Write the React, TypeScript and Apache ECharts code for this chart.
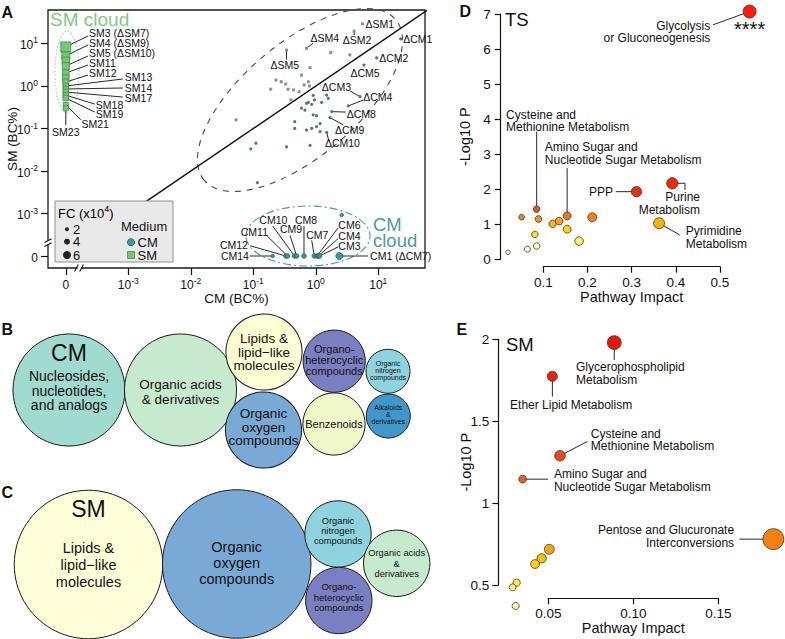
import React, { useEffect, useRef } from 'react';
import * as echarts from 'echarts';

const FONT = '"Liberation Sans", Arial, Helvetica, sans-serif';
const INK = '#111111';

/* ================= Panel A : BC% in CM (x) vs SM (y) ================= */
// SM cloud (not detected in CM, CM BC% = 0)
const smCloudNames = ['SM3 (ΔSM7)', 'SM4 (ΔSM9)', '', 'SM5 (ΔSM10)', 'SM11', '', 'SM12', 'SM13', 'SM14', 'SM17', 'SM18', 'SM19', 'SM21', 'SM23'];
const smCloudSM = [8.3, 5.1, 3.9, 2.96, 2.02, 1.54, 1.24, 1.0, 0.85, 0.72, 0.61, 0.52, 0.36, 0.3];
const smCloudFC = [8, 6, 5.5, 5, 4.5, 4.5, 4, 3.5, 3.5, 3.5, 3.5, 3.5, 3, 3];

// CM cloud (not detected in SM, SM BC% = 0)
const cmCloudNames = ['CM14', 'CM12', 'CM11', 'CM10', 'CM9', 'CM8', 'CM7', 'CM6', 'CM4', 'CM3', 'CM1 (ΔCM7)', ''];
const cmCloudCM = [0.204, 0.333, 0.352, 0.456, 0.494, 0.647, 0.946, 1.045, 1.096, 1.146, 2.38, 2.6];
const cmCloudSM = [0, 0, 0, 0, 0, 0, 0, 0, 0, 0, 0, 0.00092];
const cmCloudFC = [1.5, 2.5, 2.5, 2.5, 2.5, 2.5, 2.5, 2.5, 2.5, 2.5, 5, 1.5];

// Δ metabolites enriched in SM (above identity)
const dsmNames = ['ΔSM1', 'ΔSM2', 'ΔSM4', 'ΔSM5', '', '', '', '', '', '', '', '', '', '', '', '', '', '', '', ''];
const dsmCM = [5.6, 4.1, 0.71, 0.34, 1.73, 3.5, 0.81, 0.59, 0.23, 0.28, 0.33, 0.19, 0.36, 0.44, 0.54, 0.65, 0.76, 0.79, 0.053, 0.4];
const dsmSM = [29, 19.5, 7.7, 7.0, 6.1, 5.4, 2.7, 1.8, 1.38, 1.26, 1.11, 0.84, 0.84, 0.81, 0.73, 1.06, 1.26, 1.0, 0.16, 0.47];

// Δ metabolites enriched in CM (below identity)
const dcmNames = ['ΔCM1', 'ΔCM2', 'ΔCM5', 'ΔCM3', 'ΔCM4', 'ΔCM8', 'ΔCM9', 'ΔCM10', '', '', '', '', '', '', '', '', '', '', '', '', '', '', '', '', '', '', '', '', '', '', '', ''];
const dcmCM = [22.8, 9.4, 5.9, 5.1, 3.3, 1.8, 1.69, 1.49, 0.91, 0.95, 1.49, 1.58, 1.24, 0.76, 0.86, 0.59, 0.67, 0.91, 1.03, 0.46, 0.46, 0.71, 0.86, 1.03, 1.17, 1.17, 0.34, 0.81, 0.11, 0.091, 0.116, 0.71];
const dcmSM = [12.8, 4.6, 3.1, 0.56, 0.34, 0.25, 0.18, 0.081, 0.6, 0.47, 0.61, 0.51, 0.41, 0.41, 0.37, 0.3, 0.27, 0.21, 0.2, 0.145, 0.1, 0.092, 0.1, 0.11, 0.13, 0.084, 0.037, 0.04, 0.045, 0.033, 0.0053, 0.39];

const decadeTicks = [-4, -3, -2, -1, 0, 1]; // -4 stands for the broken "0" position
const legendFC = [2, 4, 6];

/* ================= Panel B / C : chemical classes ================= */
const classesB = ['Nucleosides,\nnucleotides,\nand analogs', 'Organic acids\n& derivatives', 'Lipids &\nlipid−like\nmolecules', 'Organic\noxygen\ncompounds', 'Organo-\nheterocyclic\ncompounds', 'Benzenoids', 'Organic\nnitrogen\ncompounds', 'Alkaloids\n&\nderivatives'];
const countsB = [13, 13, 6, 6, 4, 4, 2, 2];
const classesC = ['Lipids &\nlipid−like\nmolecules', 'Organic\noxygen\ncompounds', 'Organic\nnitrogen\ncompounds', 'Organo-\nheterocyclic\ncompounds', 'Organic acids\n&\nderivatives'];
const countsC = [5, 5, 1, 1, 1];

/* ================= Panel D / E : pathway analysis ================= */
const tsNames = ['Glycolysis\nor Gluconeogenesis', 'PPP', 'Purine\nMetabolism', 'Pyrimidine\nMetabolism', 'Cysteine and\nMethionine Metabolism', 'Amino Sugar and\nNucleotide Sugar Metabolism', '', '', '', '', '', '', '', '', '', '', ''];
const tsImpact = [0.567, 0.311, 0.392, 0.362, 0.085, 0.154, 0.051, 0.089, 0.121, 0.136, 0.211, 0.154, 0.081, 0.181, 0.064, 0.085, 0.02];
const tsLogP = [7.07, 1.93, 2.17, 1.03, 1.43, 1.24, 1.2, 1.15, 1.01, 1.09, 1.2, 0.86, 0.71, 0.52, 0.29, 0.38, 0.2];

const smNames = ['Glycerophospholipid\nMetabolism', 'Ether Lipid Metabolism', 'Cysteine and\nMethionine Metabolism', 'Amino Sugar and\nNucleotide Sugar Metabolism', 'Pentose and Glucuronate\nInterconversions', '', '', '', '', '', ''];
const smImpact = [0.0888, 0.0524, 0.0569, 0.0349, 0.1824, 0.0506, 0.0461, 0.0422, 0.0314, 0.029, 0.0308];
const smLogP = [1.98, 1.774, 1.289, 1.146, 0.78, 0.718, 0.663, 0.628, 0.514, 0.486, 0.372];

/* ================= layout & style (not data) ================= */
type Ann = { i: number; tx: number; ty: number; align: string; line?: number[][]; text?: string; size?: number };

const smCloudAnn: Ann[] = [
  { i: 0, tx: 23.3, ty: -13.7, align: 'left', line: [[22.3, -11]] },
  { i: 1, tx: 23.3, ty: -13.3, align: 'left', line: [[22.3, -11]] },
  { i: 3, tx: 23.3, ty: -12.7, align: 'left', line: [[22.3, -10]] },
  { i: 4, tx: 23.3, ty: -10.3, align: 'left', line: [[22.3, -8]] },
  { i: 6, tx: 23.3, ty: -9.3, align: 'left', line: [[22.3, -7]] },
  { i: 7, tx: 59, ty: -8.7, align: 'left', line: [[57, -7]] },
  { i: 8, tx: 59, ty: -0.7, align: 'left', line: [[57, -1]] },
  { i: 9, tx: 59, ty: 6.3, align: 'left', line: [[57, 5]] },
  { i: 10, tx: 30, ty: 10, align: 'left', line: [[29, 9]] },
  { i: 11, tx: 30, ty: 16, align: 'left', line: [[29, 14]] },
  { i: 12, tx: 15.7, ty: 19, align: 'left', line: [[15, 15]] },
  { i: 13, tx: 0, ty: 23.7, align: 'center', line: [[0, 17]] },
];
const cmCloudAnn: Ann[] = [
  { i: 0, tx: -23.7, ty: 0, align: 'right', line: [[-23, 0]] },
  { i: 1, tx: -38, ty: -11.3, align: 'right', line: [[-36, -10.3]] },
  { i: 2, tx: -19.5, ty: -24, align: 'right', line: [[-20.8, -20.6]] },
  { i: 3, tx: -21.2, ty: -35.6, align: 'center', line: [[-21.8, -30]] },
  { i: 4, tx: -5.7, ty: -26.6, align: 'center', line: [[-6.7, -20.6]] },
  { i: 5, tx: 2, ty: -35.6, align: 'center', line: [[0, -30]] },
  { i: 6, tx: 3, ty: -20.6, align: 'center', line: [[-2.6, -15.6]] },
  { i: 7, tx: 21.3, ty: -31.3, align: 'left', line: [[21, -28]] },
  { i: 8, tx: 20, ty: -20, align: 'left', line: [[19.7, -17.3]] },
  { i: 9, tx: 18.8, ty: -10, align: 'left', line: [[18.5, -9]] },
  { i: 10, tx: 30.7, ty: 0, align: 'left', line: [[28.7, 0]] },
];
const dsmAnn: Ann[] = [
  { i: 0, tx: 3, ty: 0, align: 'left' },
  { i: 1, tx: 3, ty: 9, align: 'center', line: [[0, 4]] },
  { i: 2, tx: 4, ty: -10, align: 'left', line: [[6.6, -5]] },
  { i: 3, tx: -1.7, ty: 15, align: 'center', line: [[0, 9.5]] },
];
const dcmAnn: Ann[] = [
  { i: 0, tx: 2.5, ty: 0, align: 'left' },
  { i: 1, tx: 2.5, ty: 0, align: 'left' },
  { i: 2, tx: 1, ty: 8, align: 'center' },
  { i: 3, tx: -9, ty: -10, align: 'right', line: [[-10, -5.7]] },
  { i: 4, tx: 15, ty: -9, align: 'left', line: [[14.7, -5.7]] },
  { i: 5, tx: 15, ty: 2.3, align: 'left', line: [[14, 0.5]] },
  { i: 6, tx: 5, ty: 12.3, align: 'left', line: [[13.3, 7.3]] },
  { i: 7, tx: -1.7, ty: 11, align: 'left', line: [[2.3, 8.7]] },
];
const tsAnn: Ann[] = [
  { i: 0, tx: -39.3, ty: 20.3, align: 'right', line: [[-36.7, 13.3]] },
  { i: 0, tx: 0, ty: 17.8, align: 'center', text: '****', size: 20 },
  { i: 1, tx: -23.4, ty: 0.3, align: 'right', line: [[-20.7, 0]] },
  { i: 2, tx: 27.7, ty: 20.5, align: 'right', line: [[12.7, 0], [12.7, 6.7]] },
  { i: 3, tx: 26.7, ty: 14.2, align: 'left', line: [[20.7, 11.7]] },
  { i: 4, tx: -30.7, ty: -88.1, align: 'left', line: [[0, -77.6]] },
  { i: 5, tx: -22.3, ty: -62.3, align: 'left', line: [[0, -47.7]] },
];
const smAnn: Ann[] = [
  { i: 0, tx: -38.3, ty: 31, align: 'left', line: [[0, 17.3]] },
  { i: 1, tx: -42.3, ty: 28.3, align: 'left', line: [[0, 20.3]] },
  { i: 2, tx: 30.7, ty: -16, align: 'left', line: [[27.3, -14.3]] },
  { i: 3, tx: 31.3, ty: 1.2, align: 'left', line: [[25.6, 0]] },
  { i: 4, tx: -39.3, ty: -2.6, align: 'right', line: [[-34, 0]] },
];

// packed-bubble layout centres (pixel space of hidden grid)
const bubbleLayoutB = [[69, 390], [180.5, 390], [264, 352], [263.5, 430], [334.2, 361.2], [334, 424], [388, 371.3], [388.3, 416]];
const bubbleLayoutC = [[88.5, 564.5], [236.7, 564], [338, 534], [338.8, 600.5], [396.7, 563.3]];
const colorsB = ['#a1dace', '#c7eacf', '#fefed4', '#79a9d4', '#7a7fc1', '#eef8c8', '#8ed3de', '#3f98c9'];
const colorsC = ['#fefed8', '#79a9d4', '#8ed3de', '#7a7fc1', '#c7eacf'];
const fontB = [14, 13.5, 13.5, 13.5, 11, 11, 7, 7];
const lhB = [14.7, 14.3, 13.3, 13.7, 11, 11, 7, 7];
const offB = [[0, 0.7], [0, 2], [0, 0], [0, -3], [0, -1.4], [0, 0], [0, -0.7], [0, -2]];
const fontC = [14.5, 14.5, 9.3, 9.5, 9.3];
const lhC = [16.7, 16, 10, 10.3, 10.5];
const offC = [[0, 0.5], [0, -0.7], [0, -3.3], [0, -3.5], [0, 0.5]];

const tsStops: [number, string][] = [[0.2, '#fffbe0'], [0.38, '#fff7a6'], [0.6, '#ffec3c'], [0.86, '#ffd500'], [1.03, '#f9b300'], [1.15, '#f49216'], [1.25, '#ef6e1a'], [1.45, '#e84e1a'], [1.95, '#ee2a0c'], [7, '#ff1a00']];
const smStops: [number, string][] = [[0.37, '#fffca8'], [0.5, '#ffee4a'], [0.63, '#fbcf0c'], [0.66, '#f8bf06'], [0.72, '#f5a30a'], [0.78, '#f38010'], [1.15, '#e8601a'], [1.29, '#e84a1e'], [1.77, '#ec200c'], [2, '#e8140c']];

const ZERO_POS = -4;
const toAxis = (v: number) => (v > 0 ? Math.log10(v) : ZERO_POS);

function hex(c: string) {
  return [1, 3, 5].map((k) => parseInt(c.slice(k, k + 2), 16));
}
function colorAt(stops: [number, string][], v: number) {
  if (v <= stops[0][0]) return stops[0][1];
  for (let k = 1; k < stops.length; k++) {
    if (v <= stops[k][0]) {
      const t = (v - stops[k - 1][0]) / (stops[k][0] - stops[k - 1][0]);
      const a = hex(stops[k - 1][1]);
      const b = hex(stops[k][1]);
      const m = a.map((x, j) => Math.round(x + (b[j] - x) * t));
      return `rgb(${m[0]},${m[1]},${m[2]})`;
    }
  }
  return stops[stops.length - 1][1];
}

function annotationSeries(axis: number, points: number[][], texts: string[], anns: Ann[], fontSize: number, lineHeight: number) {
  return {
    type: 'custom',
    xAxisIndex: axis,
    yAxisIndex: axis,
    z: 1,
    silent: true,
    clip: false,
    data: anns.map((a) => points[a.i]),
    renderItem: (params: any, api: any) => {
      const a = anns[params.dataIndex];
      const p = api.coord([api.value(0), api.value(1)]);
      const children: any[] = [];
      if (a.line) {
        children.push({
          type: 'polyline',
          shape: { points: [[p[0], p[1]], ...a.line.map((q) => [p[0] + q[0], p[1] + q[1]])] },
          style: { stroke: INK, lineWidth: 0.9, fill: 'none' },
        });
      }
      children.push({
        type: 'text',
        x: p[0] + a.tx,
        y: p[1] + a.ty,
        style: {
          text: a.text ?? texts[a.i],
          fontSize: a.size ?? fontSize,
          lineHeight,
          fontFamily: FONT,
          fill: INK,
          align: a.align,
          verticalAlign: 'middle',
        },
      });
      return { type: 'group', children };
    },
  };
}

const supRich = {
  b: { fontSize: 12, lineHeight: 15, verticalAlign: 'bottom', fontFamily: FONT, color: INK },
  s: { fontSize: 8.5, lineHeight: 6, verticalAlign: 'top', fontFamily: FONT, color: INK },
};
const logFormatter = (v: number) => (v === ZERO_POS ? '{b|0}' : `{b|10}{s|${v}}`);

function gText(text: string, x: number, y: number, fontSize: number, extra: any = {}) {
  return {
    type: 'text',
    x,
    y,
    z: 100,
    silent: true,
    style: { text, fontSize, fontFamily: FONT, fill: INK, align: 'left', verticalAlign: 'middle', ...extra },
  };
}

function bubbleSeries(classes: string[], counts: number[], layout: number[][], k: number, colors: string[], fonts: number[], lhs: number[], offs: number[][]) {
  return {
    type: 'scatter',
    xAxisIndex: 3,
    yAxisIndex: 3,
    symbol: 'circle',
    z: 2,
    silent: true,
    itemStyle: { borderColor: '#1a1a1a', borderWidth: 1, opacity: 1 },
    label: { show: true, position: 'inside', color: INK, fontFamily: FONT, formatter: (p: any) => p.name },
    data: classes.map((name, i) => ({
      name,
      value: layout[i],
      symbolSize: 2 * k * Math.sqrt(counts[i]),
      itemStyle: { color: colors[i] },
      label: { fontSize: fonts[i], lineHeight: lhs[i], offset: offs[i] },
    })),
  };
}

function buildOption() {
  const smCloudPts = smCloudSM.map((v) => [toAxis(0), toAxis(v)]);
  const cmCloudPts = cmCloudCM.map((v, i) => [toAxis(v), toAxis(cmCloudSM[i])]);
  const dsmPts = dsmCM.map((v, i) => [toAxis(v), toAxis(dsmSM[i])]);
  const dcmPts = dcmCM.map((v, i) => [toAxis(v), toAxis(dcmSM[i])]);
  const tsPts = tsImpact.map((v, i) => [v, tsLogP[i]]);
  const smPts = smImpact.map((v, i) => [v, smLogP[i]]);
  const identity = [-3.3, 1.9].map((v) => [v, v]);

  const axisLineStyle = { color: INK, width: 1.2 };
  const nameStyle = { fontSize: 14.5, color: INK, fontFamily: FONT };

  const legendItems: any[] = [
    { type: 'rect', shape: { x: 55, y: 201, width: 118, height: 61 }, style: { fill: '#e9e9e9', stroke: '#8f8f8f', lineWidth: 1 } },
    { type: 'text', x: 58, y: 212, style: { text: '{b|FC (x10}{s|4}{b|)}', rich: { b: { ...supRich.b, fontSize: 13 }, s: { ...supRich.s, fontSize: 9 } }, verticalAlign: 'middle', align: 'left' } },
    { type: 'text', x: 121, y: 226.7, style: { text: 'Medium', fontSize: 13, fontFamily: FONT, fill: INK, verticalAlign: 'middle', align: 'left' } },
    { type: 'circle', shape: { cx: 131, cy: 242.3, r: 3.6 }, style: { fill: '#3d9b96', stroke: '#1e5c59', lineWidth: 0.8 } },
    { type: 'text', x: 137.5, y: 242.3, style: { text: 'CM', fontSize: 13, fontFamily: FONT, fill: INK, verticalAlign: 'middle', align: 'left' } },
    { type: 'rect', shape: { x: 127.5, y: 251.5, width: 7, height: 7 }, style: { fill: '#7cc47c', stroke: '#3f8f3f', lineWidth: 0.8 } },
    { type: 'text', x: 137.5, y: 255.5, style: { text: 'SM', fontSize: 13, fontFamily: FONT, fill: INK, verticalAlign: 'middle', align: 'left' } },
  ];
  const legendY = [229.3, 241.7, 255];
  legendFC.forEach((fc, k) => {
    legendItems.push({ type: 'circle', shape: { cx: 67, cy: legendY[k], r: (2 + fc) / 2 }, style: { fill: '#222' } });
    legendItems.push({ type: 'text', x: 73, y: legendY[k], style: { text: String(fc), fontSize: 13, fontFamily: FONT, fill: INK, verticalAlign: 'middle', align: 'left' } });
  });

  const graphics: any[] = [
    // ellipses
    { type: 'ellipse', x: 300, y: 100, rotation: 0.698, z: 1, silent: true, shape: { cx: 0, cy: 0, rx: 125, ry: 57 }, style: { fill: 'none', stroke: '#4a4a4a', lineWidth: 1.1, lineDash: [6, 6] } },
    { type: 'ellipse', x: 67, y: 72, z: 1, silent: true, shape: { cx: 0, cy: 0, rx: 12, ry: 41 }, style: { fill: 'none', stroke: '#9dd49d', lineWidth: 1.1, lineDash: [1.5, 2] } },
    { type: 'ellipse', x: 308, y: 236, z: 1, silent: true, shape: { cx: 0, cy: 0, rx: 62, ry: 30 }, style: { fill: 'none', stroke: '#4b9c97', lineWidth: 1.1, lineDash: [8, 3, 2, 3] } },
    gText('SM cloud', 50, 19.5, 19, { fill: '#86c886' }),
    gText('CM\ncloud', 373, 232, 18.5, { fill: '#4f9c97', lineHeight: 16 }),
    // legend
    { type: 'group', z: 100, silent: true, children: legendItems.map((e) => ({ ...e, z: 100 })) },
    // axis breaks
    { type: 'rect', z: 90, silent: true, shape: { x: 77.5, y: 265, width: 3.5, height: 6 }, style: { fill: '#fff' } },
    { type: 'line', z: 91, silent: true, shape: { x1: 74.5, y1: 271.5, x2: 78.3, y2: 264.5 }, style: { stroke: INK, lineWidth: 1.1 } },
    { type: 'line', z: 91, silent: true, shape: { x1: 79.7, y1: 271.5, x2: 83.5, y2: 264.5 }, style: { stroke: INK, lineWidth: 1.1 } },
    { type: 'rect', z: 90, silent: true, shape: { x: 45, y: 240.5, width: 6, height: 4 }, style: { fill: '#fff' } },
    { type: 'line', z: 91, silent: true, shape: { x1: 44.5, y1: 242.5, x2: 51.5, y2: 238.8 }, style: { stroke: INK, lineWidth: 1.1 } },
    { type: 'line', z: 91, silent: true, shape: { x1: 44.5, y1: 246.5, x2: 51.5, y2: 242.8 }, style: { stroke: INK, lineWidth: 1.1 } },
    // panel letters and headings
    gText('A', 1.5, 12, 16, { fontWeight: 'bold' }),
    gText('B', 1.5, 329, 16, { fontWeight: 'bold' }),
    gText('C', 1.5, 492.5, 16, { fontWeight: 'bold' }),
    gText('D', 459.5, 11.5, 16, { fontWeight: 'bold' }),
    gText('E', 456.5, 329, 16, { fontWeight: 'bold' }),
    gText('TS', 505, 19.7, 18.5),
    gText('SM', 506, 344.8, 18.5),
    gText('CM', 69, 353.3, 23, { align: 'center' }),
    gText('SM', 88.5, 509.3, 23, { align: 'center' }),
  ];

  return {
    animation: false,
    textStyle: { fontFamily: FONT, color: INK },
    grid: [
      { left: 48, top: 10, width: 377, height: 258, show: true, borderColor: '#1a1a1a', borderWidth: 1.3, backgroundColor: 'rgba(0,0,0,0)', containLabel: false, outerBoundsMode: 'none' },
      { left: 543.3, top: 14, width: 176.7, height: 245.3, containLabel: false, outerBoundsMode: 'none' },
      { left: 548.3, top: 339.3, width: 170, height: 245.7, containLabel: false, outerBoundsMode: 'none' },
      { left: 0, top: 0, width: 785, height: 639, containLabel: false, outerBoundsMode: 'none' },
    ],
    xAxis: [
      {
        gridIndex: 0, type: 'value', min: -4.285, max: 1.747,
        axisLine: { show: false, onZero: false },
        splitLine: { show: false },
        axisTick: { show: true, customValues: decadeTicks, length: 7, lineStyle: axisLineStyle },
        axisLabel: { customValues: decadeTicks, formatter: logFormatter, rich: supRich, margin: 8 },
        name: 'CM (BC%)', nameLocation: 'middle', nameGap: 23, nameMoveOverlap: false,
        nameTextStyle: { ...nameStyle, fontSize: 13.5 },
      },
      {
        gridIndex: 1, type: 'value', min: 0.1, max: 0.5, interval: 0.1, offset: 7.4,
        axisLine: { show: true, onZero: false, lineStyle: axisLineStyle },
        axisTick: { length: 6, lineStyle: axisLineStyle },
        axisLabel: { fontSize: 13.5, color: INK, margin: 9, fontFamily: FONT },
        splitLine: { show: false },
        name: 'Pathway Impact', nameLocation: 'middle', nameGap: 23, nameMoveOverlap: false, nameTextStyle: nameStyle,
      },
      {
        gridIndex: 2, type: 'value', min: 0.05, max: 0.15, interval: 0.05, offset: 13.3,
        axisLine: { show: true, onZero: false, lineStyle: axisLineStyle },
        axisTick: { length: 6, lineStyle: axisLineStyle },
        axisLabel: { fontSize: 13.5, color: INK, margin: 8, fontFamily: FONT, formatter: (v: number) => v.toFixed(2) },
        splitLine: { show: false },
        name: 'Pathway Impact', nameLocation: 'middle', nameGap: 22, nameMoveOverlap: false, nameTextStyle: nameStyle,
      },
      { gridIndex: 3, type: 'value', min: 0, max: 785, show: false },
    ],
    yAxis: [
      {
        gridIndex: 0, type: 'value', min: -4.282, max: 1.788,
        axisLine: { show: false, onZero: false },
        splitLine: { show: false },
        axisTick: { show: true, customValues: decadeTicks, length: 7, lineStyle: axisLineStyle },
        axisLabel: { customValues: decadeTicks, formatter: logFormatter, rich: supRich, margin: 10 },
        name: 'SM (BC%)', nameLocation: 'middle', nameGap: 28.5, nameMoveOverlap: false,
        nameTextStyle: { ...nameStyle, fontSize: 13.5 },
      },
      {
        gridIndex: 1, type: 'value', min: 0, max: 7, interval: 1, offset: 42.6,
        axisLine: { show: true, onZero: false, lineStyle: axisLineStyle },
        axisTick: { length: 6, lineStyle: axisLineStyle },
        axisLabel: { fontSize: 13.5, color: INK, margin: 10, fontFamily: FONT },
        splitLine: { show: false },
        name: '-Log10 P', nameLocation: 'middle', nameGap: 28.5, nameMoveOverlap: false, nameTextStyle: nameStyle,
      },
      {
        gridIndex: 2, type: 'value', min: 0.5, max: 2, interval: 0.5, offset: 50,
        axisLine: { show: true, onZero: false, lineStyle: axisLineStyle },
        axisTick: { length: 6, lineStyle: axisLineStyle },
        axisLabel: { fontSize: 13.5, color: INK, margin: 9, fontFamily: FONT },
        splitLine: { show: false },
        name: '-Log10 P', nameLocation: 'middle', nameGap: 25, nameMoveOverlap: false, nameTextStyle: nameStyle,
      },
      { gridIndex: 3, type: 'value', min: 0, max: 639, inverse: true, show: false },
    ],
    series: [
      // Panel A
      { type: 'line', xAxisIndex: 0, yAxisIndex: 0, data: identity, symbol: 'none', silent: true, z: 1, lineStyle: { color: INK, width: 1.5 } },
      { type: 'scatter', name: 'ΔSM', xAxisIndex: 0, yAxisIndex: 0, data: dsmPts, symbol: 'rect', symbolSize: 3, z: 3, silent: true, itemStyle: { color: '#8a938f', opacity: 1 } },
      { type: 'scatter', name: 'ΔCM', xAxisIndex: 0, yAxisIndex: 0, data: dcmPts, symbol: 'circle', symbolSize: 3.2, z: 3, silent: true, itemStyle: { color: '#4e7e7b', opacity: 1 } },
      {
        type: 'scatter', name: 'SM cloud', xAxisIndex: 0, yAxisIndex: 0, symbol: 'rect', z: 4, silent: true, clip: false,
        data: smCloudPts.map((p, i) => ({ value: p, symbolSize: 2 + smCloudFC[i] })),
        itemStyle: { color: '#7cc47c', borderColor: '#3f8f3f', borderWidth: 0.8, opacity: 1 },
      },
      {
        type: 'scatter', name: 'CM cloud', xAxisIndex: 0, yAxisIndex: 0, symbol: 'circle', z: 4, silent: true, clip: false,
        data: cmCloudPts.map((p, i) => ({ value: p, symbolSize: 2 + cmCloudFC[i] })),
        itemStyle: { color: '#3d9b96', borderColor: '#1e5c59', borderWidth: 0.8, opacity: 1 },
      },
      annotationSeries(0, smCloudPts, smCloudNames, smCloudAnn, 10.5, 11),
      annotationSeries(0, cmCloudPts, cmCloudNames, cmCloudAnn, 10.5, 11),
      annotationSeries(0, dsmPts, dsmNames, dsmAnn, 10.5, 11),
      annotationSeries(0, dcmPts, dcmNames, dcmAnn, 10.5, 11),
      // Panel D
      {
        type: 'scatter', name: 'TS', xAxisIndex: 1, yAxisIndex: 1, data: tsPts, clip: false, z: 3, silent: true,
        symbolSize: (v: number[]) => 2.5 + 14 * Math.sqrt(v[0]),
        itemStyle: { color: (p: any) => colorAt(tsStops, p.value[1]), borderColor: '#3a3a3a', borderWidth: 0.8, opacity: 1 },
      },
      annotationSeries(1, tsPts, tsNames, tsAnn, 12, 12.6),
      // Panel E
      {
        type: 'scatter', name: 'SM', xAxisIndex: 2, yAxisIndex: 2, data: smPts, clip: false, z: 3, silent: true,
        symbolSize: (v: number[]) => 55 * Math.sqrt(v[0]) - 2.5,
        itemStyle: { color: (p: any) => colorAt(smStops, p.value[1]), borderColor: '#3a3a3a', borderWidth: 0.8, opacity: 1 },
      },
      annotationSeries(2, smPts, smNames, smAnn, 12, 12.4),
      // Panels B and C
      bubbleSeries(classesB, countsB, bubbleLayoutB, 15.55, colorsB, fontB, lhB, offB),
      bubbleSeries(classesC, countsC, bubbleLayoutC, 33.2, colorsC, fontC, lhC, offC),
    ],
    graphic: { elements: graphics },
  };
}

export default function App() {
  const ref = useRef<HTMLDivElement>(null);
  useEffect(() => {
    document.body.style.margin = '0';
    const chart = echarts.init(ref.current as HTMLDivElement, null, { renderer: 'svg' });
    chart.setOption(buildOption() as any);
    return () => chart.dispose();
  }, []);
  return <div ref={ref} style={{ position: 'absolute', left: 0, top: 0, width: 785, height: 639, background: '#ffffff' }} />;
}
